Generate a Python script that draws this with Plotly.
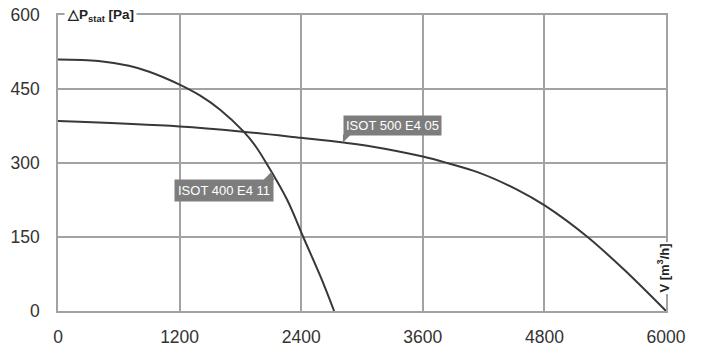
import numpy as np
import plotly.graph_objects as go

# Data
flow_400 = [0, 400, 700, 900, 1200, 1400, 1600, 1830, 1950, 2055, 2260, 2420, 2590, 2725]
pres_400 = [510, 507, 497, 485, 459, 437, 408, 364, 334, 300, 226, 150, 70, 0]
flow_500 = [0, 1200, 1800, 2400, 2835, 3080, 3600, 3840, 4160, 4530, 4810, 5220, 5585, 6000]
pres_500 = [385, 374, 364, 351, 341, 334, 313, 300, 280, 246, 213, 151, 84, 0]
name_400 = "ISOT 400 E4 11"
name_500 = "ISOT 500 E4 05"
x_ticks = [0, 1200, 2400, 3600, 4800, 6000]
y_ticks = [0, 150, 300, 450, 600]

GRID = "#a2a2a2"
CURVE = "#383838"
BOX = "#7d7d7d"

fig = go.Figure()
fig.add_trace(go.Scatter(x=flow_400, y=pres_400, mode="lines",
                         line=dict(color=CURVE, width=2, shape="spline", smoothing=1.0),
                         name=name_400, showlegend=False))
fig.add_trace(go.Scatter(x=flow_500, y=pres_500, mode="lines",
                         line=dict(color=CURVE, width=2, shape="spline", smoothing=1.0),
                         name=name_500, showlegend=False))

# label anchors on the curves
p_tip_400 = 282
x_tip_400 = float(np.interp(p_tip_400, pres_400[::-1], flow_400[::-1]))
x_tip_500 = 2812
p_tip_500 = float(np.interp(x_tip_500, flow_500, pres_500))

lab_font = dict(family="Liberation Sans, Arial, sans-serif", size=13, color="white")
fig.add_annotation(x=x_tip_400, y=p_tip_400, text=name_400, showarrow=False,
                   xanchor="right", yanchor="top", xshift=3, yshift=-7,
                   bgcolor=BOX, borderpad=3, font=lab_font)
fig.add_shape(type="path", xref="x", yref="y", xsizemode="pixel", ysizemode="pixel",
              xanchor=x_tip_400, yanchor=p_tip_400,
              path="M0,0 L-8,-8 L3,-8 Z", fillcolor=BOX, line=dict(width=0))

fig.add_annotation(x=x_tip_500, y=p_tip_500, text=name_500, showarrow=False,
                   xanchor="left", yanchor="bottom", xshift=0, yshift=7,
                   bgcolor=BOX, borderpad=2, font=lab_font)
fig.add_shape(type="path", xref="x", yref="y", xsizemode="pixel", ysizemode="pixel",
              xanchor=x_tip_500, yanchor=p_tip_500,
              path="M0,0 L0,8 L8,8 Z", fillcolor=BOX, line=dict(width=0))

# axis titles embedded in the frame
fig.add_annotation(xref="paper", yref="paper", x=0, y=1, xshift=6,
                   xanchor="left", yanchor="middle", showarrow=False,
                   text="<b>△P<sub>stat</sub> [Pa]</b>", bgcolor="white", borderpad=2,
                   font=dict(family="Liberation Sans, Arial, sans-serif", size=13.5, color="#222"))
fig.add_annotation(xref="paper", yref="y", x=1, y=86, xshift=-3,
                   xanchor="center", yanchor="middle", showarrow=False, textangle=-90,
                   text="<b>V [m<sup>3</sup>/h]</b>", bgcolor="white", borderpad=1,
                   font=dict(family="Liberation Sans, Arial, sans-serif", size=13, color="#222"))

tick_font = dict(family="Liberation Sans, Arial, sans-serif", size=17.5, color="#333")
fig.update_xaxes(range=[0, 6000], tickvals=x_ticks, ticktext=[str(v) for v in x_ticks],
                 showgrid=True, gridcolor=GRID, gridwidth=1.5, zeroline=False,
                 showline=True, linecolor=GRID, linewidth=1.5, mirror=True,
                 ticks="", ticklabelstandoff=9, tickfont=tick_font, automargin=False,
                 ticklabeloverflow="allow")
fig.update_yaxes(range=[0, 600], tickvals=y_ticks, ticktext=[str(v) for v in y_ticks],
                 showgrid=True, gridcolor=GRID, gridwidth=1.5, zeroline=False,
                 showline=True, linecolor=GRID, linewidth=1.5, mirror=True,
                 ticks="", ticklabelstandoff=13, tickfont=tick_font, automargin=False,
                 ticklabeloverflow="allow")

# the page body adds an 8px offset, so the figure is drawn 8px smaller
fig.update_layout(width=697, height=339, margin=dict(l=50, r=39, t=7, b=36),
                  paper_bgcolor="white", plot_bgcolor="white", showlegend=False)

fig.write_html("out.html")
